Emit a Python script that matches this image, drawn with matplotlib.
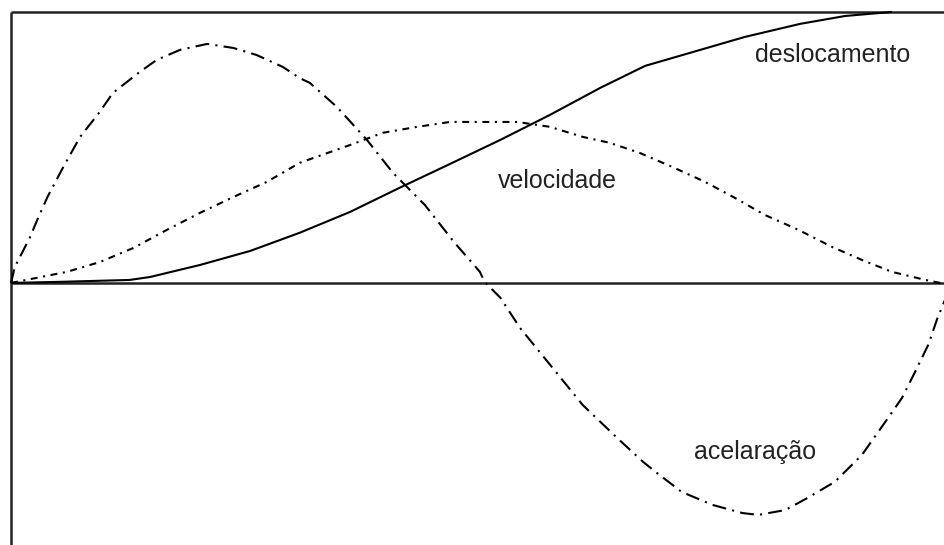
import matplotlib
matplotlib.use("Agg")
import matplotlib.pyplot as plt

plt.rcParams['font.family'] = ['Liberation Sans', 'DejaVu Sans']
plt.rcParams['lines.scale_dashes'] = False

# time in % of the cycle, amplitudes normalised to the top of the frame
t_desl = [0, 5.2, 12.7, 14.9, 20.2, 25.6, 30.9, 36.3, 41.6, 47.0, 52.4,
          57.7, 63.1, 67.9, 73.8, 78.6, 84.5, 89.3, 94.3]
desl = [0, 0.004, 0.011, 0.022, 0.066, 0.118, 0.185, 0.262, 0.351, 0.439,
        0.528, 0.620, 0.720, 0.801, 0.860, 0.908, 0.956, 0.985, 1.0]

t_vel = [0, 6.0, 9.5, 13.1, 16.7, 20.2, 23.8, 27.4, 30.9, 36.3, 39.8, 43.5,
         47.0, 50.5, 54.2, 57.7, 61.2, 64.1, 67.3, 70.8, 74.3, 77.5, 80.7,
         84.3, 87.9, 91.1, 94.3, 97.9, 99.5]
vel = [0, 0.041, 0.077, 0.129, 0.196, 0.258, 0.317, 0.373, 0.443, 0.509,
       0.554, 0.576, 0.594, 0.594, 0.594, 0.576, 0.539, 0.517, 0.480, 0.428,
       0.373, 0.314, 0.251, 0.196, 0.133, 0.085, 0.041, 0.011, 0]

t_acel = [0, 0.4, 2.0, 2.8, 3.9, 5.6, 7.4, 9.5, 10.9, 13.8, 15.6, 18.1, 21.0,
          23.8, 26.3, 29.1, 30.9, 32.0, 34.9, 38.1, 40.9, 44.3, 47.5, 50.2,
          50.7, 52.4, 54.5, 58.0, 61.2, 64.9, 67.7, 69.0, 71.8, 75.1, 78.3,
          80.0, 82.9, 85.3, 88.2, 91.1, 93.6, 95.4, 96.8, 98.2, 99.2, 100]
acel = [0, 0.059, 0.166, 0.232, 0.317, 0.428, 0.539, 0.631, 0.701, 0.779,
        0.823, 0.860, 0.882, 0.867, 0.841, 0.797, 0.756, 0.738, 0.649, 0.528,
        0.406, 0.288, 0.148, 0.041, 0.004, -0.055, -0.166, -0.314, -0.450,
        -0.572, -0.661, -0.697, -0.771, -0.819, -0.849, -0.856, -0.838,
        -0.793, -0.734, -0.635, -0.513, -0.424, -0.328, -0.229, -0.129, -0.063]

labels = ["deslocamento", "velocidade", "acelaração"]
label_pos = [(88.0, 0.84), (58.5, 0.375), (79.7, -0.625)]

fig = plt.figure(figsize=(9.45, 5.45), dpi=100)
ax = fig.add_axes([0, 0, 1, 1])
ax.set_xlim(-1.18, 100)
ax.set_ylim(-0.967, 1.044)

# frame: top line, left line and the zero line
ax.hlines([1.0, 0.0], 0, 100, color='#222222', lw=1.8)
ax.vlines(0, -0.967, 1.0, color='#222222', lw=1.8)

ax.plot(t_desl, desl, color='black', lw=1.5, solid_capstyle='butt')
ax.plot(t_vel, vel, color='black', lw=1.5, linestyle=(0, (5, 4, 1.5, 4)))
ax.plot(t_acel, acel, color='black', lw=1.5, linestyle=(0, (10, 4.5, 1.5, 4.5)))

for txt, (x, y) in zip(labels, label_pos):
    ax.text(x, y, txt, fontsize=18, color='#222222', ha='center', va='center')

ax.axis('off')

fig.savefig('out.png', dpi=100)
